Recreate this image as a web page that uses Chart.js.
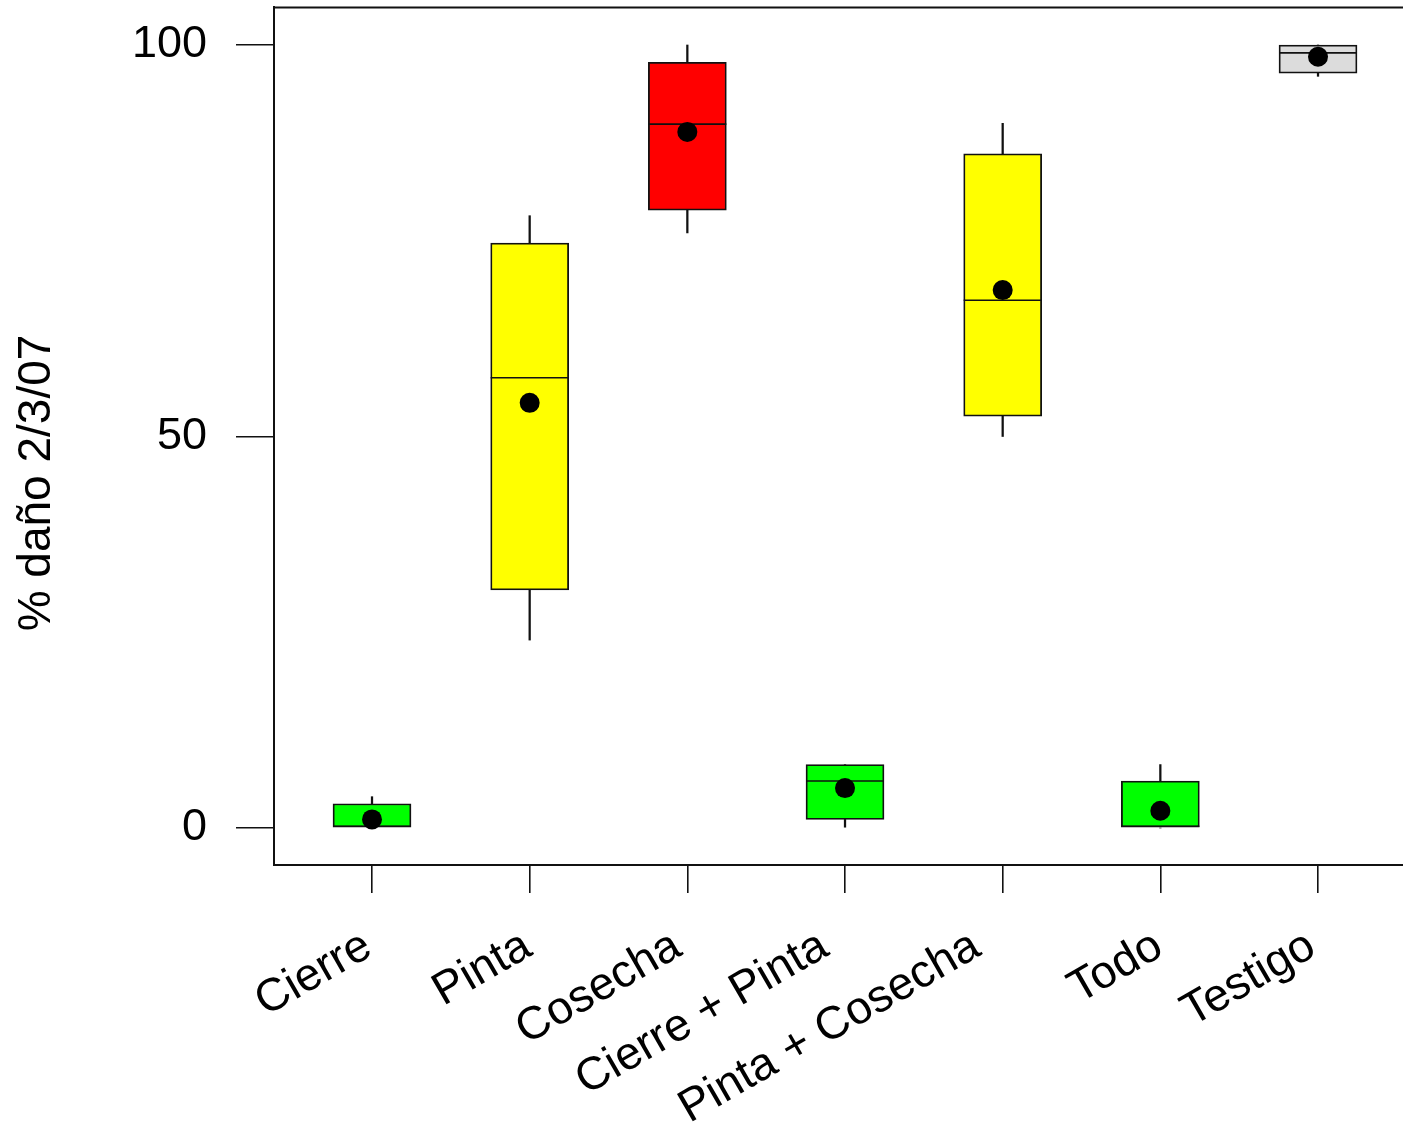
<!DOCTYPE html>
<html>
<head>
<meta charset="utf-8">
<script src="https://cdn.jsdelivr.net/npm/chart.js@4.4.1/dist/chart.umd.min.js"></script>
<style>
  html, body { margin: 0; padding: 0; background: #ffffff; }
  #wrap { width: 1403px; height: 1123px; }
</style>
</head>
<body>
<div id="wrap"><canvas id="c" width="1403" height="1123"></canvas></div>
<script>
// Treatments and damage summaries (% daño, 2/3/07)
const categories  = ['Cierre', 'Pinta', 'Cosecha', 'Cierre + Pinta', 'Pinta + Cosecha', 'Todo', 'Testigo'];
const whiskerLow  = [0,   24.0, 76.0, 0,   50.0, 0,   96.0];
const boxLow      = [0,   30.4, 78.9, 1.1, 52.6, 0,   96.4];
const medians     = [0,   57.5, 89.9, 6.0, 67.4, 0,   99.0];
const boxHigh     = [3.1, 74.7, 97.8, 8.1, 86.1, 6.0, 100];
const whiskerHigh = [4.0, 78.2, 100,  8.1, 90.0, 8.1, 100];
const means       = [1.1, 54.3, 88.9, 5.1, 68.7, 2.2, 98.5];
const yTicks      = [0, 50, 100];
const yTitle      = '% daño 2/3/07';

const boxColors = ['#00ff00', '#ffff00', '#ff0000', '#00ff00', '#ffff00', '#00ff00', '#dcdcdc'];
const FONT = '"Liberation Sans", Arial, sans-serif';
const X_LABEL_SIZE = 46;
const LABEL_ANGLE = 30;
const INK = '#111111';
const BOX_BORDER = 1.8;

const idx = categories.map((_, i) => i);

// Median lines, drawn right after the boxes so the mean dots sit on top;
// kept inside the box outline when the median sits on a quartile
const medianPlugin = {
  id: 'medianLines',
  afterDatasetDraw(chart, args) {
    if (args.index !== 1) return;
    const meta = chart.getDatasetMeta(1);
    const y = chart.scales.y;
    const ctx = chart.ctx;
    ctx.save();
    ctx.strokeStyle = INK;
    ctx.lineWidth = 1.6;
    meta.data.forEach((bar, i) => {
      const top = Math.min(bar.y, bar.base) + BOX_BORDER / 2;
      const bottom = Math.max(bar.y, bar.base) - BOX_BORDER / 2;
      const py = Math.min(bottom, Math.max(top, y.getPixelForValue(medians[i])));
      const half = bar.width / 2;
      ctx.beginPath();
      ctx.moveTo(bar.x - half, py);
      ctx.lineTo(bar.x + half, py);
      ctx.stroke();
    });
    ctx.restore();
  }
};

// Slanted category labels: longer names sit a little further left of their tick
const shifted = new WeakSet();
const labelNudgePlugin = {
  id: 'labelNudge',
  beforeDraw(chart) {
    const sx = chart.scales.x;
    const items = sx.getLabelItems(chart.chartArea);
    const ctx = chart.ctx;
    ctx.save();
    ctx.font = X_LABEL_SIZE + 'px ' + FONT;
    const cos = Math.cos(LABEL_ANGLE * Math.PI / 180);
    items.forEach(it => {
      if (shifted.has(it)) return;
      const wx = ctx.measureText(String(it.label)).width * cos;
      it.options.translation[0] += 9 - 0.12 * wx;
      shifted.add(it);
    });
    ctx.restore();
  }
};

// Top edge of the plot frame and the vertical axis title
const framePlugin = {
  id: 'frameAndTitle',
  afterDraw(chart) {
    const { ctx, chartArea } = chart;
    ctx.save();
    ctx.strokeStyle = INK;
    ctx.lineWidth = 2;
    ctx.beginPath();
    ctx.moveTo(chartArea.left, chartArea.top + 0.5);
    ctx.lineTo(chartArea.right, chartArea.top + 0.5);
    ctx.stroke();
    ctx.translate(37, 483);
    ctx.rotate(-Math.PI / 2);
    ctx.fillStyle = '#000';
    ctx.font = '46px ' + FONT;
    ctx.textAlign = 'center';
    ctx.textBaseline = 'middle';
    ctx.fillText(yTitle, 0, 0);
    ctx.restore();
  }
};

function noPadding(scale) {
  scale.paddingLeft = 0;
  scale.paddingRight = 0;
  scale.paddingTop = 0;
  scale.paddingBottom = 0;
}

new Chart(document.getElementById('c'), {
  type: 'bar',
  data: {
    datasets: [
      {
        type: 'line',
        label: 'media',
        data: idx.map(i => ({ x: i, y: means[i] })),
        showLine: false,
        pointRadius: 10,
        pointHoverRadius: 10,
        pointBackgroundColor: '#000',
        pointBorderWidth: 0,
        order: 0
      },
      {
        label: 'caja',
        data: idx.map(i => ({ x: i, y: [boxLow[i], boxHigh[i]] })),
        backgroundColor: boxColors,
        borderColor: INK,
        borderWidth: BOX_BORDER,
        borderSkipped: false,
        barThickness: 78,
        grouped: false,
        order: 1
      },
      {
        label: 'bigote inferior',
        data: idx.map(i => ({ x: i, y: [whiskerLow[i], boxLow[i]] })),
        backgroundColor: INK,
        borderWidth: 0,
        barThickness: 1.6,
        grouped: false,
        order: 2
      },
      {
        label: 'bigote superior',
        data: idx.map(i => ({ x: i, y: [boxHigh[i], whiskerHigh[i]] })),
        backgroundColor: INK,
        borderWidth: 0,
        barThickness: 1.6,
        grouped: false,
        order: 2
      }
    ]
  },
  options: {
    responsive: false,
    animation: false,
    layout: { autoPadding: false, padding: { top: 7, right: 0, left: 0, bottom: 0 } },
    plugins: { legend: { display: false }, tooltip: { enabled: false } },
    scales: {
      x: {
        type: 'linear',
        min: -0.6216,
        max: 6.539,
        offset: false,
        afterBuildTicks(scale) { scale.ticks = idx.map(v => ({ value: v })); },
        afterFit(scale) { scale.height = 258; noPadding(scale); },
        grid: { offset: false, drawOnChartArea: false, drawTicks: true, tickLength: 28, color: INK, lineWidth: 1.6 },
        border: { display: true, color: INK, width: 2 },
        ticks: {
          autoSkip: false,
          minRotation: LABEL_ANGLE,
          maxRotation: LABEL_ANGLE,
          padding: 26,
          color: '#000',
          font: { family: FONT, size: X_LABEL_SIZE },
          callback: v => categories[v]
        }
      },
      y: {
        type: 'linear',
        min: -4.725,
        max: 104.853,
        afterBuildTicks(scale) { scale.ticks = yTicks.map(v => ({ value: v })); },
        afterFit(scale) { scale.width = 274; noPadding(scale); },
        grid: { drawOnChartArea: false, drawTicks: true, tickLength: 38, color: INK, lineWidth: 1.6 },
        border: { display: true, color: INK, width: 2 },
        ticks: {
          padding: 29,
          color: '#000',
          font: { family: FONT, size: 45 }
        }
      }
    }
  },
  plugins: [medianPlugin, labelNudgePlugin, framePlugin]
});
</script>
</body>
</html>
